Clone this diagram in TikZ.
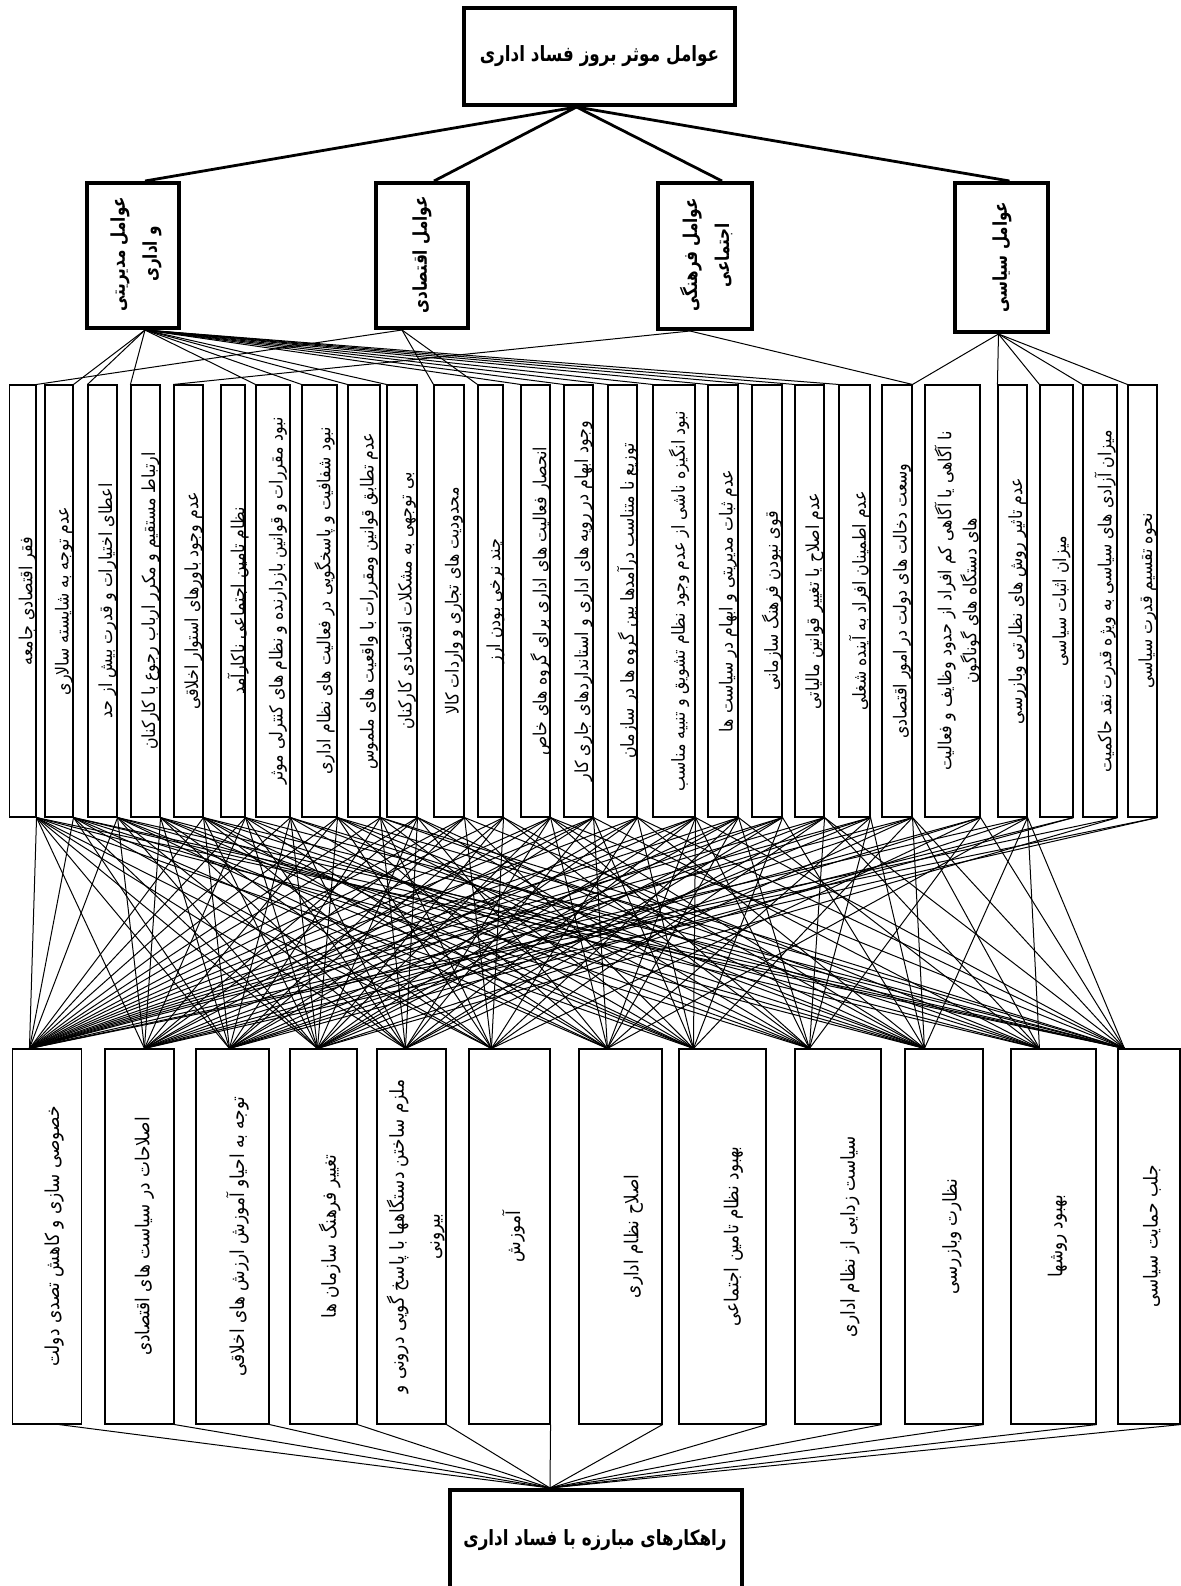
\documentclass[tikz,border=0pt]{standalone}
\usepackage{fontspec}
\newfontfamily\faN[Script=Arabic,FakeStretch=0.88]{DejaVu Sans}
\newfontfamily\faB[Script=Arabic,FakeStretch=0.8]{DejaVu Sans}
\TeXXeTstate=1
\newcommand\rlt[1]{\beginR#1\endR}
\usetikzlibrary{calc}
\begin{document}
\begin{tikzpicture}[x=0.5pt,y=-0.5pt,
  bigbox/.style={draw,line width=2pt,inner sep=0pt},
  thinbox/.style={draw,line width=0.55pt,inner sep=0pt},
  heavy/.style={line width=1.4pt},
  link/.style={line width=0.5pt},
  web/.style={line width=0.5pt},
  midtxt/.style={rotate=90,inner sep=0pt,align=center,font=\faN\fontsize{9}{12.5}\selectfont},
  bottxt/.style={rotate=90,inner sep=0pt,align=center,font=\faN\fontsize{9.6}{18}\selectfont},
  cattxt/.style={rotate=90,inner sep=0pt,align=center,font=\faB\bfseries\fontsize{9.5}{16}\selectfont},
  titletxt/.style={font=\faB\bfseries\fontsize{10.5}{12}\selectfont}]
\fill[white] (0,0) rectangle (1181,1586);
\useasboundingbox (0,0) rectangle (1181,1586);
\clip (0,0) rectangle (1181,1586);

% top and category boxes
\node[bigbox,minimum width=135.5pt,minimum height=48.5pt,titletxt] (top) at (599.5,56.5) {\rlt{عوامل موثر بروز فساد اداری}};
\node[bigbox,minimum width=46pt,minimum height=72.5pt] (c1) at (133,255.5) {};
\node[cattxt] (ct1) at (136,254) {\rlt{عوامل مدیریتی}\\\rlt{و اداری}};
\node[bigbox,minimum width=46pt,minimum height=72.5pt] (c2) at (422,255.5) {};
\node[cattxt] (ct2) at (422,255) {\rlt{عوامل اقتصادی}};
\node[bigbox,minimum width=47pt,minimum height=73pt] (c3) at (705,256) {};
\node[cattxt] (ct3) at (706,255) {\rlt{عوامل فرهنگی}\\\rlt{اجتماعی}};
\node[bigbox,minimum width=46.5pt,minimum height=74.5pt] (c4) at (1001.5,257.5) {};
\node[cattxt] (ct4) at (1002,257) {\rlt{عوامل سیاسی}};

\coordinate (tc) at ($(top.south)+(-23,0)$);
\draw[heavy] (tc) -- ($(c1.north)+(12,0)$);
\draw[heavy] (tc) -- ($(c2.north)+(12,0)$);
\draw[heavy] (tc) -- ($(c3.north)+(17,0)$);
\draw[heavy] (tc) -- ($(c4.north)+(8,0)$);

% middle boxes
\foreach \i/\a/\b/\txt in {
 1/9.6/36/{\rlt{فقر اقتصادی جامعه}},
 2/45/73/{\rlt{عدم توجه به شایسته سالاری}},
 3/88/117/{\rlt{اعطای اختیارات و قدرت بیش از حد}},
 4/131/160/{\rlt{ارتباط مستقیم و مکرر ارباب رجوع با کارکنان}},
 5/174/203/{\rlt{عدم وجود باورهای استوار اخلاقی}},
 6/221/245/{\rlt{نظام تامین اجتماعی ناکارآمد}},
 7/256/290/{\rlt{نبود مقررات و قوانین بازدارنده و نظام های کنترلی موثر}},
 8/302/337/{\rlt{نبود شفافیت و پاسخگویی در فعالیت های نظام اداری}},
 9/348/380/{\rlt{عدم تطابق قوانین ومقررات با واقعیت های ملموس}},
 10/387/417/{\rlt{بی توجهی به مشکلات اقتصادی کارکنان}},
 11/434/464/{\rlt{محدودیت های تجاری و واردات کالا}},
 12/478/503/{\rlt{چند نرخی بودن ارز}},
 13/521/550/{\rlt{انحصار فعالیت های اداری برای گروه های خاص}},
 14/564/593/{\rlt{وجود ابهام در رویه های اداری و استانداردهای جاری کار}},
 15/608/637/{\rlt{توزیع نا متناسب درآمدها بین گروه ها در سازمان}},
 16/653/695/{\rlt{نبود انگیزه ناشی از عدم وجود نظام تشویق و تنبیه مناسب}},
 17/708/738/{\rlt{عدم ثبات مدیریتی و ابهام در سیاست ها}},
 18/752/782/{\rlt{قوی نبودن فرهنگ سازمانی}},
 19/795/824/{\rlt{عدم اصلاح یا تغییر قوانین مالیاتی}},
 20/839/870/{\rlt{عدم اطمینان افراد به آینده شغلی}},
 21/882/912/{\rlt{وسعت دخالت های دولت در امور اقتصادی}},
 22/925/980/{\rlt{نا آگاهی یا آگاهی کم افراد از حدود وظایف و فعالیت}\\\rlt{های دستگاه های گوناگون}},
 23/998/1027/{\rlt{عدم تاثیر روش های نظارتی وبازرسی}},
 24/1040/1073/{\rlt{میزان اثبات سیاسی}},
 25/1083/1117/{\rlt{میزان آزادی های سیاسی به ویژه قدرت نقد حاکمیت}},
 26/1128/1157/{\rlt{نحوه تقسیم قدرت سیاسی}}}{
 \node[thinbox,minimum width={(\b-\a)*0.5pt},minimum height=216pt] (m\i) at ({(\a+\b)/2},601) {};
 \node[midtxt] (mt\i) at ({(\a+\b)/2+5},601) {\txt};
}

% category -> factor links
\coordinate (c1o) at ($(c1.south)+(12,0)$);
\coordinate (c2o) at ($(c2.south)+(-20,0)$);
\coordinate (c3o) at ($(c3.south)+(-15,0)$);
\coordinate (c4o) at ($(c4.south)+(-3,0)$);
\draw[link] (c1o) -- (m2.north east);
\foreach \k in {3,4,7,8,9,10,13,14,15,16,17,18,19,20} {\draw[link] (c1o) -- (m\k.north west);}
\draw[link] (c2o) -- (m1.north east);
\draw[link] (c2o) -- (m11.north west);
\draw[link] (c2o) -- (m12.north west);
\draw[link] (c3o) -- (m5.north west);
\draw[link] (c3o) -- (m21.north east);
\draw[link] (c4o) -- (m21.north east);
\foreach \k in {23,24,25,26} {\draw[link] (c4o) -- (m\k.north west);}

% bottom boxes
\foreach \i/\a/\b/\d/\off/\txt in {
 1/12.6/81.5/17.4/7/{\rlt{خصوصی سازی و کاهش تصدی دولت}},
 2/105/174/40/5/{\rlt{اصلاحات در سیاست های اقتصادی}},
 3/196/269/34/5/{\rlt{توجه به احیاو آموزش ارزش های اخلاقی}},
 4/290/357/28/6/{\rlt{تغییر فرهنگ سازمان ها}},
 5/377/446/29/4/{\rlt{ملزم ساختن دستگاهها با پاسخ گویی درونی و}\\\rlt{بیرونی}},
 6/469/550/23/4/{\rlt{آموزش}},
 7/579/662/29/13/{\rlt{اصلاح نظام اداری}},
 8/679/766/15/11/{\rlt{بهبود نظام تامین اجتماعی}},
 9/795/881/15/12/{\rlt{سیاست زدایی از نظام اداری}},
 10/905/983/20/8/{\rlt{نظارت وبازرسی}},
 11/1011/1096/29/4/{\rlt{بهبود روشها}},
 12/1118/1180/7/3/{\rlt{جلب حمایت سیاسی}}}{
 \node[thinbox,minimum width={(\b-\a)*0.5pt},minimum height=187.5pt] (b\i) at ({(\a+\b)/2},1236.5) {};
 \node[bottxt] (bt\i) at ({(\a+\b)/2+\off},1236.5) {\txt};
 \coordinate (f\i) at ($(b\i.north west)+(\d,0)$);
}

% factor -> strategy links
\foreach \m/\lst in {
 1/{1,2,3,4,5,6,8,10,12}, 2/{1,3,4,6,7,9,11,12}, 3/{1,2,4,5,7,8,10,12}, 4/{2,3,5,6,8,9,11},
 5/{1,3,4,6,7,8,10,12}, 6/{1,2,4,5,7,9,12}, 7/{1,3,4,5,8,10,11}, 8/{1,2,4,6,7,9,10,12},
 9/{1,3,5,6,8,11,12}, 10/{1,2,4,5,7,9,10}, 11/{1,2,3,6,8,11}, 12/{1,3,4,6,9,10},
 13/{1,2,4,5,7,9,10,12}, 14/{1,2,3,5,7,8,11}, 15/{1,3,4,6,8,10,12}, 16/{1,2,4,5,7,8,9,12},
 17/{1,3,4,6,7,9,11}, 18/{1,2,4,5,8,10}, 19/{1,3,5,6,9,11,12}, 20/{1,2,4,7,9,10},
 21/{1,3,5,8,10,11,12}, 22/{2,3,6,9,12}, 23/{1,4,7,10,11,12}, 24/{2,3}, 25/{1,4}, 26/{1,2}}{
 \foreach \k in \lst {\draw[web] (m\m.south east) -- (f\k);}
}

% final box
\node[bigbox,minimum width=146pt,minimum height=55pt] (final) at (596,1545) {};
\node[titletxt] (finaltxt) at (595,1540) {\rlt{راهکارهای مبارزه با فساد اداری}};
\coordinate (fin) at ($(final.north)+(-46,0)$);
\draw[link] ($(b1.south)+(12,0)$) -- (fin);
\foreach \i in {2,...,12} {\draw[link] (b\i.south east) -- (fin);}
\end{tikzpicture}
\end{document}
